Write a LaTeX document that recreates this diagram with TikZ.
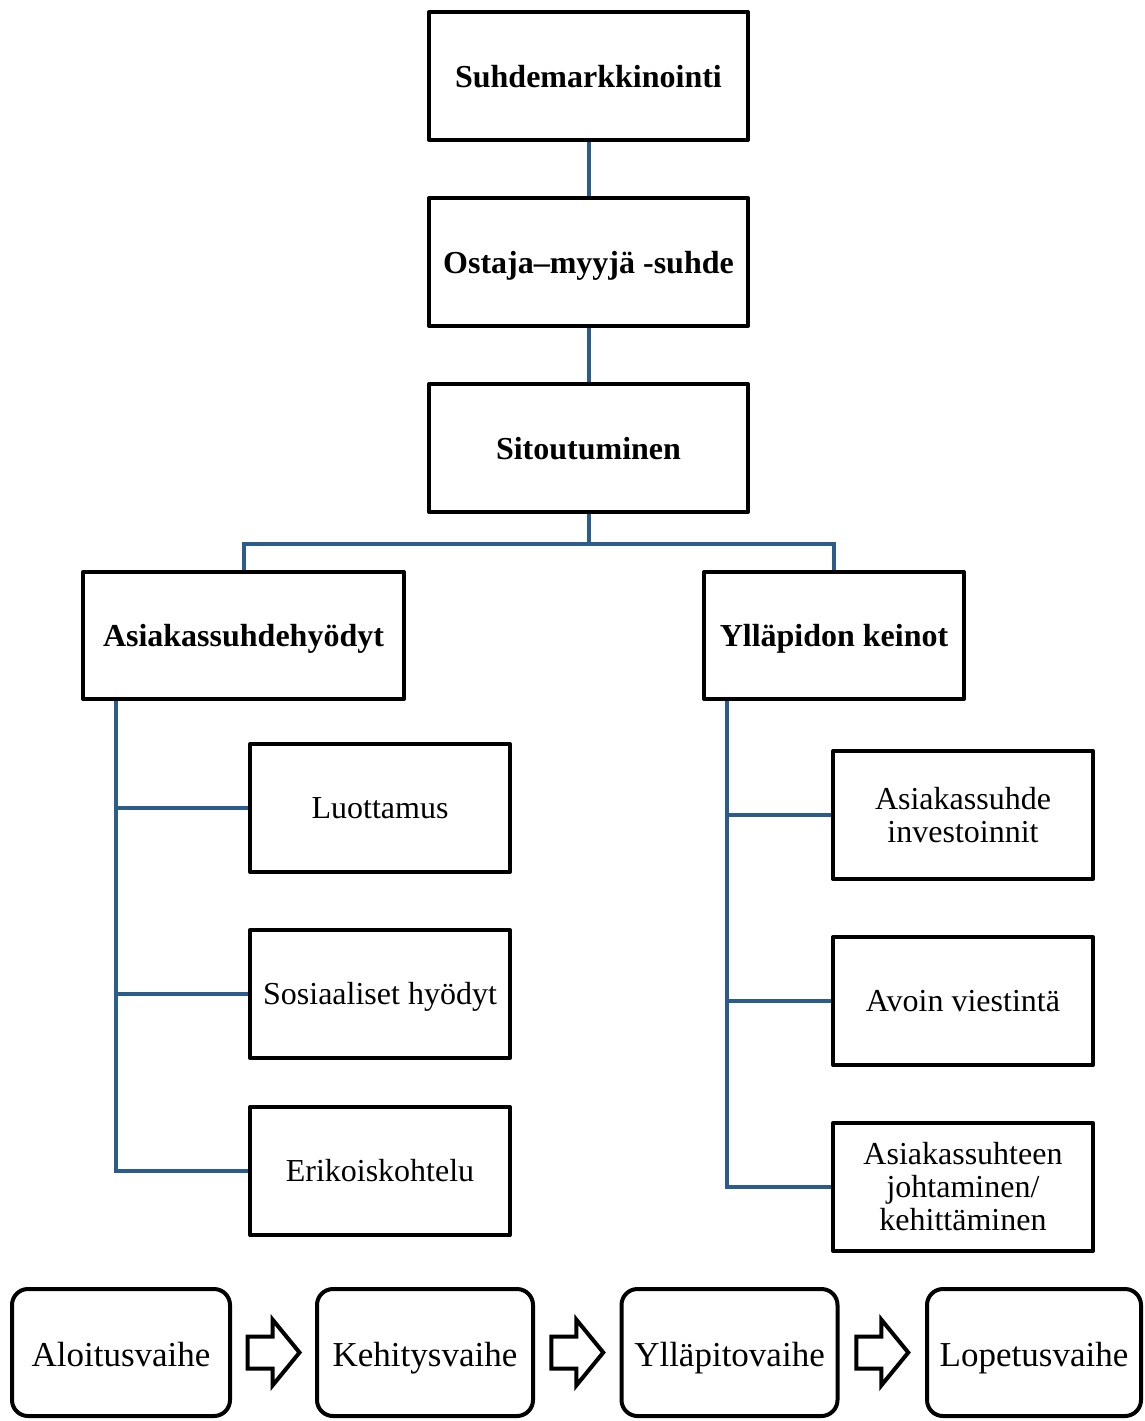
\documentclass[tikz,border=0pt]{standalone}
\usepackage{fontspec}
\setmainfont{Liberation Serif}
\usetikzlibrary{calc}
\definecolor{linkblue}{RGB}{44,92,140}
\begin{document}
\begin{tikzpicture}[x=1pt,y=-1pt,
  headbox/.style={draw=black, line width=4pt, line join=round, fill=white,
    minimum width=#1, minimum height=128pt, inner sep=0pt, align=center,
    text height=24pt, text depth=2pt,
    font=\bfseries\fontsize{32}{33}\selectfont},
  headbox/.default=319pt,
  subbox/.style={draw=black, line width=4pt, line join=round, fill=white,
    minimum width=260pt, minimum height=128pt, inner sep=0pt, align=center,
    font=\fontsize{32}{33}\selectfont},
  oneline/.style={text height=24pt, text depth=3pt},
  phase/.style={draw=black, line width=4pt, rounded corners=16pt, fill=white,
    minimum width=216pt, minimum height=127pt, inner sep=0pt,
    text height=30pt, text depth=3pt,
    font=\fontsize{35}{36}\selectfont},
  link/.style={draw=linkblue, line width=4pt, line join=miter},
  blockarrow/.style={draw=black, line width=4pt, fill=white, line join=miter}]
\useasboundingbox (0,0) rectangle (1145,1421);

% main chain
\node[headbox] (sm) at (588.5,76) {Suhdemarkkinointi};
\node[headbox] (om) at (588.5,262) {Ostaja–myyjä -suhde};
\node[headbox] (si) at (588.5,448) {Sitoutuminen};

% two branches
\node[headbox=321pt, minimum height=127pt] (ah) at (243.5,635.5) {Asiakassuhdehyödyt};
\node[headbox=260pt, minimum height=127pt] (yk) at (834,635.5) {Ylläpidon keinot};

% benefits
\node[subbox, oneline] (lu) at (380,808) {Luottamus};
\node[subbox, oneline] (so) at (380,994) {Sosiaaliset hyödyt};
\node[subbox, oneline] (ek) at (380,1171) {Erikoiskohtelu};

% means of maintenance
\node[subbox] (ai) at (963,815) {Asiakassuhde\\investoinnit};
\node[subbox, oneline] (av) at (963,1001) {Avoin viestintä};
\node[subbox] (aj) at (963,1187) {Asiakassuhteen\\johtaminen/\\kehittäminen};

% connectors
\draw[link] (sm.south) -- (om.north);
\draw[link] (om.south) -- (si.north);
\draw[link] (si.south) -- ++(0,30) coordinate (bar);
\draw[link] (ah.north) |- (bar) -| (yk.north);

\coordinate (lt) at ([xshift=35pt]ah.south west);
\draw[link] (lt) |- (ek.west);
\draw[link] (lt |- lu.west) -- (lu.west);
\draw[link] (lt |- so.west) -- (so.west);

\coordinate (rt) at ([xshift=25pt]yk.south west);
\draw[link] (rt) |- (aj.west);
\draw[link] (rt |- ai.west) -- (ai.west);
\draw[link] (rt |- av.west) -- (av.west);

% relationship phases
\node[phase, minimum width=218pt] (p1) at (121,1352.5) {Aloitusvaihe};
\node[phase] (p2) at (425,1352.5) {Kehitysvaihe};
\node[phase] (p3) at (729.5,1352.5) {Ylläpitovaihe};
\node[phase, minimum width=214pt] (p4) at (1034,1352.5) {Lopetusvaihe};

\foreach \a/\b in {p1/p2, p2/p3, p3/p4}
  \draw[blockarrow] ($(\a.east)!0.5!(\b.west)$) ++(-26,-16) -- ++(25,0)
    -- ++(0,-17) -- ++(27,33) -- ++(-27,33) -- ++(0,-17) -- ++(-25,0) -- cycle;
\end{tikzpicture}
\end{document}
